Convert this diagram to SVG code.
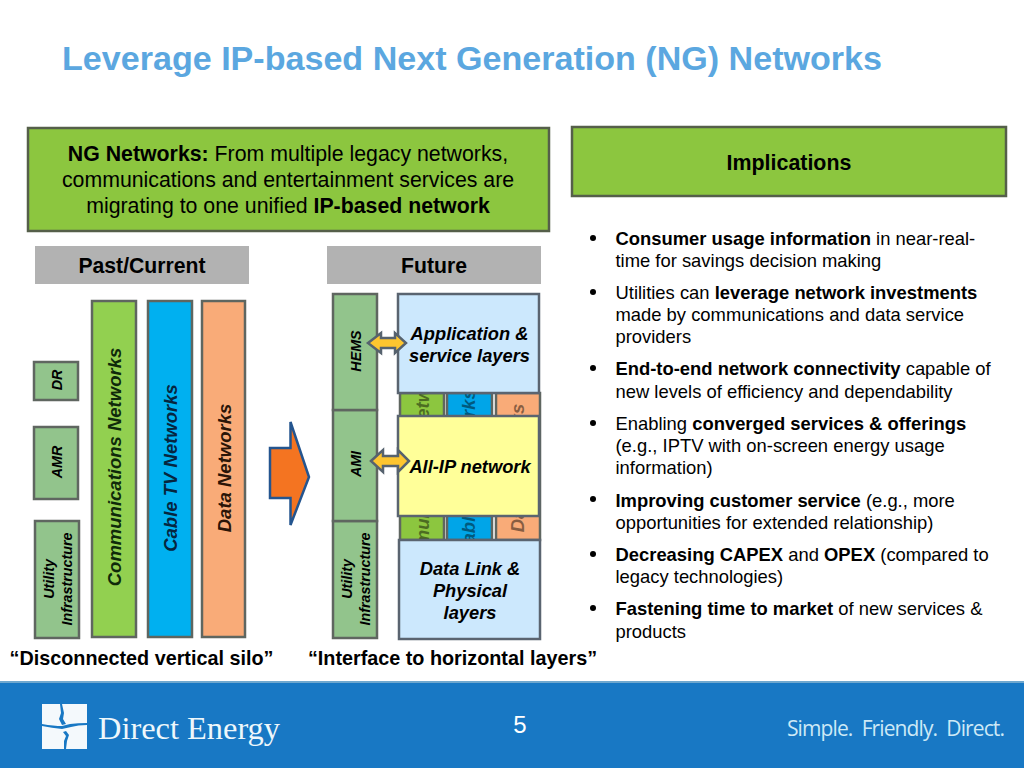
<svg xmlns="http://www.w3.org/2000/svg" width="1024" height="768" viewBox="0 0 1024 768">
<style>
text{font-family:"Liberation Sans",Arial,sans-serif;fill:#000}
.gbox{fill:#8cc63f;stroke:#555f4a;stroke-width:2.5}
.hdr{fill:#b2b2b2}
.hdrt{font-size:21.200px;font-weight:bold;text-anchor:middle}
.sage{fill:#92c48c;stroke:#5f6660;stroke-width:2.5}
.bar{stroke:#5f6660;stroke-width:2.5}
.vt{font-style:italic;font-weight:bold;text-anchor:middle}
.sm{font-size:14.300px}
.big{font-size:18.500px}
.lay{font-size:18.300px;font-style:italic;font-weight:bold;text-anchor:middle}
.lb{fill:#cce8fd;stroke:#5a6470;stroke-width:2.5}
.b{font-size:18.400px}
.sq{font-size:19.800px;font-weight:bold;text-anchor:middle}
.dbl{fill:#fdc52f;stroke:#56626e;stroke-width:2.5}
.ng{font-size:21.300px;text-anchor:middle}
</style>
<defs>
<clipPath id="gap"><rect x="398" y="393" width="143" height="147"/></clipPath>
</defs>
<rect width="1024" height="768" fill="#fff"/>
<text id="title" x="62" y="70" font-size="34.100" font-weight="bold" style="fill:#5ba7e0">Leverage IP-based Next Generation (NG) Networks</text>

<g id="ng-box">
<rect class="gbox" x="28" y="128" width="521" height="103"/>
<text class="ng" x="288" y="161"><tspan font-weight="bold">NG Networks:</tspan> From multiple legacy networks,</text>
<text class="ng" x="288" y="187">communications and entertainment services are</text>
<text class="ng" x="288" y="213">migrating to one unified <tspan font-weight="bold">IP-based network</tspan></text>
</g>
<g id="implications">
<rect class="gbox" x="572" y="127" width="434" height="69"/>
<text x="789" y="170" font-size="21.400" font-weight="bold" text-anchor="middle">Implications</text>
</g>
<g id="past-header"><rect class="hdr" x="35" y="246" width="214" height="38"/><text class="hdrt" x="142" y="273">Past/Current</text></g>
<g id="future-header"><rect class="hdr" x="327" y="246" width="214" height="38"/><text class="hdrt" x="434" y="273">Future</text></g>

<g id="dr"><rect class="sage" x="34" y="362" width="44" height="38"/><text class="vt sm" transform="translate(62,380) rotate(-90)">DR</text></g>
<g id="amr"><rect class="sage" x="34" y="427" width="44" height="72"/><text class="vt sm" transform="translate(62,462) rotate(-90)">AMR</text></g>
<g id="utility-past"><rect class="sage" x="35" y="521" width="44" height="117"/><text class="vt sm" transform="translate(54,579) rotate(-90)">Utility</text><text class="vt sm" transform="translate(72,579) rotate(-90)">Infrastructure</text></g>
<g id="comm-bar"><rect class="bar" x="92" y="301" width="44" height="336" fill="#92d050"/><text class="vt big" transform="translate(121,467) rotate(-90)" style="fill:#0f2a0a">Communications Networks</text></g>
<g id="cable-bar"><rect class="bar" x="148" y="301" width="44" height="336" fill="#00b0f0"/><text class="vt big" transform="translate(177,468) rotate(-90)" style="fill:#06263f">Cable TV Networks</text></g>
<g id="data-bar"><rect class="bar" x="202" y="301" width="43" height="336" fill="#f9ab78"/><text class="vt big" transform="translate(231,468) rotate(-90)" style="fill:#2a1508">Data Networks</text></g>

<g id="utility-future"><rect class="sage" x="333" y="521" width="44" height="117"/><text class="vt sm" transform="translate(352,579) rotate(-90)">Utility</text><text class="vt sm" transform="translate(370,579) rotate(-90)">Infrastructure</text></g>
<g id="ami"><rect class="sage" x="333" y="410" width="44" height="111"/><text class="vt sm" transform="translate(361,464) rotate(-90)">AMI</text></g>
<g id="hems"><rect class="sage" x="333" y="294" width="44" height="116"/><text class="vt sm" transform="translate(361,351) rotate(-90)">HEMS</text></g>

<g id="hidden-bars">
<rect class="bar" x="400" y="393" width="44" height="147" fill="#8cc63f"/>
<rect class="bar" x="447" y="393" width="45" height="147" fill="#00a5e8"/>
<rect class="bar" x="496" y="393" width="44" height="147" fill="#f9ab78"/>
<g clip-path="url(#gap)" style="opacity:.45">
<text class="vt big" transform="translate(429,468) rotate(-90)">Communications Networks</text>
<text class="vt big" transform="translate(475,473) rotate(-90)">Cable TV Networks</text>
<text class="vt big" transform="translate(524,468) rotate(-90)">Data Networks</text>
</g>
</g>
<g id="application"><rect class="lb" x="398" y="294" width="141" height="99"/><text class="lay" x="469.500" y="340">Application &amp;</text><text class="lay" x="469.500" y="362">service layers</text></g>
<g id="all-ip"><rect fill="#ffff99" stroke="#5a6470" stroke-width="2.5" x="398" y="416" width="141" height="100"/><text class="lay" x="470" y="473">All-IP network</text></g>
<g id="datalink"><rect class="lb" x="399" y="540" width="141" height="99"/><text class="lay" x="470" y="575">Data Link &amp;</text><text class="lay" x="470" y="597">Physical</text><text class="lay" x="470" y="619">layers</text></g>

<g id="connectors">
<path class="dbl" d="M368 343l13-10v5h14v-5l11 10-11 10v-5h-14v5z"/>
<path class="dbl" d="M371 461l12-11v6h15v-6l11 11-11 11v-6h-15v6z"/>
<path fill="#f47421" stroke="#24558f" stroke-width="2.500" d="M270 448h20.500v-26l18.500 55-18.500 48v-27h-20.500z"/>
</g>

<text id="cap1" class="sq" x="141.500" y="665">“Disconnected vertical silo”</text>
<text id="cap2" class="sq" x="452.500" y="665">“Interface to horizontal layers”</text>

<g id="bullets">
<g fill="#000"><circle cx="593" cy="238" r="3"/><circle cx="593" cy="292" r="3"/><circle cx="593" cy="368" r="3"/><circle cx="593" cy="423" r="3"/><circle cx="593" cy="499" r="3"/><circle cx="593" cy="554" r="3"/><circle cx="593" cy="608" r="3"/></g>
<text class="b" x="615.500" y="244.500"><tspan font-weight="bold">Consumer usage information</tspan> in near-real-</text>
<text class="b" x="615.500" y="266.500">time for savings decision making</text>
<text class="b" x="615.500" y="298.500">Utilities can <tspan font-weight="bold">leverage network investments</tspan></text>
<text class="b" x="615.500" y="320.500">made by communications and data service</text>
<text class="b" x="615.500" y="342.500">providers</text>
<text class="b" x="615.500" y="374.500">
<tspan font-weight="bold">End-to-end network connectivity</tspan> capable of</text>
<text class="b" x="615.500" y="397.500">new levels of efficiency and dependability</text>
<text class="b" x="615.500" y="429.500">Enabling <tspan font-weight="bold">converged services &amp; offerings</tspan></text>
<text class="b" x="615.500" y="451.500">(e.g., IPTV with on-screen energy usage</text>
<text class="b" x="615.500" y="473.500">information)</text>
<text class="b" x="615.500" y="506.500"><tspan font-weight="bold">Improving customer service</tspan> (e.g., more</text>
<text class="b" x="615.500" y="528.500">opportunities for extended relationship)</text>
<text class="b" x="615.500" y="560.500"><tspan font-weight="bold">Decreasing CAPEX</tspan> and <tspan font-weight="bold">OPEX</tspan> (compared to</text>
<text class="b" x="615.500" y="582.500">legacy technologies)</text>
<text class="b" x="615.500" y="614.500"><tspan font-weight="bold">Fastening time to market</tspan> of new services &amp;</text>
<text class="b" x="615.500" y="637.500">products</text>
</g>

<g id="footer">
<rect y="682" width="1024" height="86" fill="#1878c4"/>
<rect y="681" width="1024" height="2" fill="#6fa8cf"/>
<rect x="42" y="704" width="45" height="45" fill="#f4f9fc"/>
<path d="M42 724q12 2 20 2l8-2q8-1 17-1v2q-9 0-16 2l-9 2q-10-1-20-3zM60 704h2l2 9-1 6 3 5-4 1-3-6 2-6zM66 731l3 4-2 6-1 8h-2l0-8 2-5-3-4z" fill="#1878c4"/>
<text x="98" y="739" font-size="31" textLength="182" lengthAdjust="spacingAndGlyphs" style="font-family:'Liberation Serif',serif;fill:#eef7fb">Direct Energy</text>
<text x="520" y="733" font-size="24" text-anchor="middle" style="fill:#fff">5</text>
<text x="787" y="736" font-size="21" textLength="218" xml:space="preserve" style="font-family:'Open Sans',sans-serif;fill:#cde9f6">Simple.  Friendly.  Direct.</text>
</g>
</svg>
